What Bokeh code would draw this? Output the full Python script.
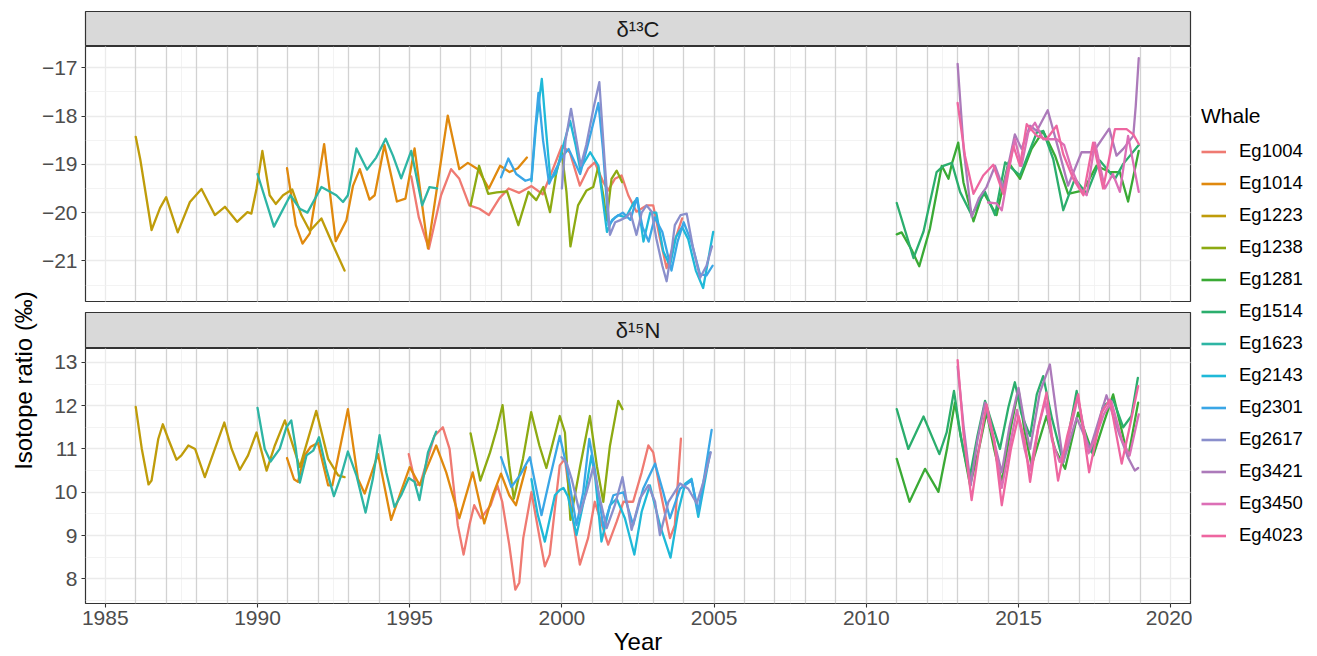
import math
from bokeh.plotting import figure
from bokeh.layouts import row, column
from bokeh.models import (Range1d, SingleIntervalTicker, FixedTicker, Grid,
                          CustomJSTickFormatter, Legend, LegendItem, Label)
from bokeh.embed import file_html
from bokeh.resources import INLINE

FONT = "Liberation Sans"

whales = ["Eg1004", "Eg1014", "Eg1223", "Eg1238", "Eg1281", "Eg1514", "Eg1623",
          "Eg2143", "Eg2301", "Eg2617", "Eg3421", "Eg3450", "Eg4023"]
whale_colors = ["#EF7A72", "#E0890E", "#BF9C0A", "#8DAA12", "#3AAA35", "#2BAE6D", "#2EB5A4",
                "#1FB9D8", "#3AA6E6", "#8A8FCC", "#AC7ABA", "#DC6FB6", "#EE66A0"]

year_lines = list(range(1986, 2020))

# ---------------- d13C ----------------
eg1004_c_yr = [1995.05, 1995.3, 1995.63, 1996.03, 1996.36, 1996.63, 1996.96, 1997.29, 1997.6, 1997.95, 1998.25, 1998.6, 1999.0, 1999.37, 1999.71, 2000.0, 2000.26, 2000.59, 2000.86, 2001.08, 2001.36, 2001.52, 2001.74, 2001.96, 2002.18, 2002.45, 2002.78, 2003.0, 2003.22, 2003.44, 2003.66, 2003.95]
eg1004_c = [-19.25, -20.1, -20.75, -19.64, -19.1, -19.3, -19.85, -19.92, -20.05, -19.7, -19.5, -19.59, -19.45, -19.62, -19.09, -18.62, -18.75, -19.44, -19.09, -18.96, -19.37, -19.54, -19.3, -19.23, -19.64, -19.98, -19.85, -19.85, -20.53, -21.15, -20.67, -20.12]

eg1014_c_yr = [1990.97, 1991.26, 1991.48, 1991.72, 1992.19, 1992.57, 1992.92, 1993.14, 1993.36, 1993.68, 1993.85, 1994.17, 1994.58, 1994.86, 1995.16, 1995.6, 1996.25, 1996.63, 1996.91, 1997.24, 1997.6, 1997.97, 1998.28, 1998.55, 1998.85]
eg1014_c = [-19.08, -20.26, -20.64, -20.43, -18.58, -20.59, -20.16, -19.44, -19.1, -19.73, -19.64, -18.6, -19.77, -19.71, -18.67, -20.74, -17.99, -19.1, -18.97, -19.1, -19.5, -19.03, -19.16, -19.08, -18.86]

eg1223_c_yr = [1986.0, 1986.15, 1986.52, 1986.8, 1987.0, 1987.38, 1987.78, 1988.16, 1988.6, 1988.93, 1989.33, 1989.67, 1989.8, 1989.97, 1990.16, 1990.4, 1990.6, 1990.84, 1991.14, 1991.44, 1991.72, 1992.1, 1992.48, 1992.86]
eg1223_c = [-18.43, -18.9, -20.36, -19.9, -19.68, -20.41, -19.78, -19.51, -20.05, -19.88, -20.19, -19.99, -20.02, -19.5, -18.72, -19.64, -19.82, -19.64, -19.52, -20.05, -20.38, -20.12, -20.67, -21.2]

eg1238_c_yr = [1997.0, 1997.28, 1997.58, 1997.86, 1998.2, 1998.57, 1998.9, 1999.16, 1999.39, 1999.61, 1999.82, 2000.0, 2000.15, 2000.28, 2000.53, 2000.81, 2001.03, 2001.19, 2001.36, 2001.47, 2001.63, 2001.8, 2001.98]
eg1238_c = [-19.85, -19.03, -19.61, -19.58, -19.56, -20.26, -19.57, -19.74, -19.47, -19.99, -19.16, -18.75, -19.57, -20.7, -19.85, -19.54, -19.47, -19.06, -19.64, -20.16, -19.3, -19.13, -19.37]

eg1281_c_yr = [2011.0, 2011.16, 2011.49, 2011.74, 2012.09, 2012.48, 2012.7, 2012.81, 2013.02, 2013.19, 2013.52, 2013.84, 2014.28, 2014.67, 2015.05, 2015.43, 2015.81, 2016.2, 2016.63, 2017.13, 2017.56, 2018.0, 2018.33, 2018.6, 2018.95]
eg1281_c = [-20.45, -20.41, -20.77, -21.11, -20.33, -19.03, -19.3, -18.99, -18.55, -19.37, -20.18, -19.57, -20.05, -18.96, -19.3, -18.68, -18.31, -18.82, -19.61, -19.54, -19.03, -19.16, -19.16, -19.77, -18.72]

eg1514_c_yr = [2011.0, 2011.55, 2011.88, 2012.31, 2012.53, 2012.81, 2013.08, 2013.46, 2013.9, 2014.23, 2014.56, 2015.05, 2015.6, 2015.81, 2016.14, 2016.47, 2016.85, 2017.24, 2017.67, 2018.17, 2018.44, 2018.95]
eg1514_c = [-19.8, -20.94, -20.39, -19.16, -19.03, -18.97, -19.57, -20.05, -19.57, -20.05, -18.96, -19.23, -18.34, -18.31, -18.89, -19.95, -19.3, -19.61, -18.92, -19.3, -18.99, -18.6]

eg1623_c_yr = [1990.0, 1990.54, 1991.08, 1991.39, 1991.64, 1992.1, 1992.59, 1992.81, 1992.97, 1993.25, 1993.6, 1993.9, 1994.21, 1994.45, 1994.72, 1995.05, 1995.41, 1995.65, 1995.9]
eg1623_c = [-19.2, -20.29, -19.64, -19.92, -20.0, -19.47, -19.64, -19.78, -19.64, -18.67, -19.11, -18.86, -18.47, -18.82, -19.29, -18.72, -19.85, -19.47, -19.5]

eg2143_c_yr = [1999.0, 1999.15, 1999.34, 1999.48, 1999.62, 1999.8, 2000.05, 2000.27, 2000.45, 2000.6, 2000.93, 2001.2, 2001.48, 2001.65, 2001.85, 2002.1, 2002.35, 2002.48, 2002.68, 2002.9, 2003.1, 2003.33, 2003.55, 2003.75, 2003.95, 2004.15, 2004.4, 2004.64, 2004.8, 2004.97]
eg2143_c = [-19.35, -18.2, -17.23, -18.3, -19.3, -19.2, -18.6, -18.1, -18.6, -19.1, -18.75, -19.03, -20.4, -20.15, -20.05, -20.1, -19.8, -19.7, -20.6, -20.0, -20.0, -20.8, -21.1, -20.5, -20.3, -20.55, -21.2, -21.56, -21.0, -20.4]

eg2301_c_yr = [1998.0, 1998.24, 1998.5, 1998.8, 1999.0, 1999.12, 1999.23, 1999.38, 1999.58, 1999.8, 2000.0, 2000.22, 2000.6, 2000.85, 2001.2, 2001.35, 2001.53, 2001.75, 2002.0, 2002.25, 2002.46, 2002.65, 2002.85, 2003.05, 2003.3, 2003.6, 2003.8, 2004.0, 2004.25, 2004.54, 2004.75, 2004.95]
eg2301_c = [-19.27, -18.88, -19.2, -19.34, -19.3, -18.3, -17.52, -18.5, -19.4, -19.1, -18.85, -18.68, -19.2, -18.6, -17.73, -18.7, -20.26, -20.1, -20.0, -20.15, -19.7, -20.3, -20.6, -20.1, -20.4, -21.2, -20.6, -20.2, -20.6, -21.28, -21.3, -21.1]

eg2617_c_yr = [2000.0, 2000.12, 2000.3, 2000.45, 2000.62, 2000.8, 2001.05, 2001.23, 2001.4, 2001.58, 2001.75, 2001.9, 2002.1, 2002.25, 2002.45, 2002.62, 2002.78, 2002.95, 2003.1, 2003.3, 2003.44, 2003.6, 2003.71, 2003.9, 2004.1, 2004.3, 2004.54, 2004.75, 2004.93]
eg2617_c = [-19.5, -18.5, -17.85, -18.4, -19.03, -18.6, -17.8, -17.3, -18.9, -20.46, -20.2, -20.16, -20.1, -20.0, -20.46, -20.0, -19.85, -19.98, -20.53, -21.1, -21.42, -20.8, -20.26, -20.05, -20.02, -20.7, -21.35, -21.1, -20.7]

eg3421_c_yr = [2013.0, 2013.2, 2013.46, 2013.7, 2013.95, 2014.23, 2014.5, 2014.88, 2015.1, 2015.38, 2015.6, 2015.96, 2016.31, 2016.63, 2017.07, 2017.45, 2017.98, 2018.22, 2018.44, 2018.77, 2018.85, 2018.95]
eg3421_c = [-16.92, -18.7, -20.09, -19.7, -19.47, -19.03, -19.5, -18.38, -18.68, -18.2, -18.31, -17.88, -18.68, -19.44, -18.75, -18.75, -18.26, -18.82, -18.68, -18.41, -17.8, -16.8]

eg3450_c_yr = [2014.0, 2014.28, 2014.45, 2014.67, 2014.88, 2015.1, 2015.32, 2015.54, 2015.81, 2016.25, 2016.5, 2016.74, 2017.02, 2017.24, 2017.51, 2017.84, 2018.1, 2018.33, 2018.6, 2018.95]
eg3450_c = [-19.79, -19.81, -19.95, -19.16, -18.48, -19.03, -18.34, -18.14, -18.48, -18.48, -18.6, -19.09, -19.5, -19.64, -18.55, -19.5, -19.2, -19.57, -18.41, -19.57]

eg4023_c_yr = [2013.0, 2013.24, 2013.52, 2013.84, 2014.17, 2014.5, 2014.83, 2015.05, 2015.27, 2015.6, 2015.92, 2016.25, 2016.47, 2016.8, 2017.13, 2017.45, 2017.78, 2018.17, 2018.55, 2018.77, 2018.95]
eg4023_c = [-17.73, -18.82, -19.61, -19.23, -19.01, -19.61, -18.62, -19.03, -18.17, -18.41, -18.48, -18.2, -18.79, -19.3, -19.64, -18.55, -19.5, -18.27, -18.27, -18.38, -18.58]

# ---------------- d15N ----------------
eg1004_n_yr = [1994.97, 1995.2, 1995.35, 1995.81, 1996.09, 1996.31, 1996.58, 1996.77, 1996.96, 1997.12, 1997.34, 1997.66, 1997.88, 1998.04, 1998.27, 1998.47, 1998.6, 1998.73, 1999.0, 1999.27, 1999.44, 1999.6, 1999.93, 2000.1, 2000.32, 2000.59, 2000.86, 2001.08, 2001.52, 2001.8, 2002.02, 2002.34, 2002.62, 2002.84, 2003.0, 2003.22, 2003.55, 2003.71, 2003.91]
eg1004_n = [10.88, 10.16, 10.2, 11.3, 11.5, 11.0, 9.24, 8.56, 9.24, 9.7, 9.4, 9.7, 10.16, 9.78, 8.79, 7.75, 7.91, 8.94, 10.0, 8.94, 8.29, 8.56, 10.62, 10.77, 9.55, 8.33, 8.94, 9.78, 8.79, 9.32, 9.78, 9.78, 10.46, 11.08, 10.92, 10.08, 8.94, 9.24, 11.24]

eg1014_n_yr = [1990.97, 1991.2, 1991.33, 1991.55, 1991.75, 1991.99, 1992.32, 1992.46, 1992.97, 1993.3, 1993.52, 1993.96, 1994.39, 1994.67, 1995.0, 1995.33, 1995.6, 1995.87, 1996.2, 1996.63, 1997.07, 1997.45, 1997.73, 1998.0, 1998.27, 1998.49, 1998.82]
eg1014_n = [10.79, 10.3, 10.24, 10.85, 11.05, 11.14, 10.16, 10.16, 11.92, 10.31, 9.97, 10.88, 9.36, 9.93, 10.58, 10.16, 10.62, 11.08, 10.46, 9.4, 10.46, 9.28, 9.93, 10.43, 9.93, 9.7, 10.58]

eg1223_n_yr = [1986.0, 1986.2, 1986.42, 1986.52, 1986.74, 1986.89, 1987.07, 1987.34, 1987.5, 1987.73, 1987.95, 1988.27, 1988.6, 1988.91, 1989.15, 1989.42, 1989.69, 1989.97, 1990.3, 1990.57, 1990.9, 1991.39, 1991.93, 1992.32, 1992.65, 1992.86]
eg1223_n = [11.97, 11.0, 10.18, 10.27, 11.23, 11.57, 11.23, 10.75, 10.85, 11.08, 11.0, 10.35, 11.0, 11.61, 11.0, 10.52, 10.85, 11.38, 10.5, 11.08, 11.66, 10.58, 11.88, 10.77, 10.39, 10.35]

eg1238_n_yr = [1997.0, 1997.32, 1997.64, 1997.86, 1998.05, 1998.27, 1998.42, 1998.72, 1998.99, 1999.26, 1999.49, 1999.93, 2000.1, 2000.28, 2000.6, 2000.92, 2001.15, 2001.36, 2001.58, 2001.85, 2001.99]
eg1238_n = [11.36, 10.27, 10.92, 11.46, 12.01, 10.62, 9.85, 10.77, 11.85, 11.08, 10.56, 11.76, 11.38, 9.36, 10.6, 11.76, 10.6, 9.78, 11.08, 12.11, 11.92]

eg1281_n_yr = [2011.0, 2011.42, 2011.93, 2012.37, 2012.65, 2012.91, 2013.1, 2013.41, 2013.7, 2013.95, 2014.2, 2014.45, 2014.75, 2015.0, 2015.2, 2015.43, 2015.92, 2016.2, 2016.53, 2016.96, 2017.46, 2017.8, 2018.11, 2018.6, 2018.93]
eg1281_n = [10.77, 9.78, 10.54, 10.01, 11.0, 12.07, 11.3, 10.16, 11.0, 11.84, 11.0, 10.24, 11.5, 12.37, 11.4, 10.62, 11.76, 11.0, 10.54, 11.84, 10.85, 11.6, 12.26, 10.81, 12.07]

eg1514_n_yr = [2011.0, 2011.38, 2011.88, 2012.4, 2012.64, 2012.88, 2013.1, 2013.39, 2013.65, 2013.9, 2014.39, 2014.67, 2014.88, 2015.1, 2015.38, 2015.6, 2015.81, 2016.1, 2016.47, 2016.91, 2017.15, 2017.4, 2017.78, 2018.11, 2018.44, 2018.71, 2018.92]
eg1514_n = [11.92, 11.0, 11.75, 10.88, 11.38, 12.34, 11.3, 10.31, 11.3, 12.11, 11.0, 11.97, 12.54, 11.8, 11.3, 12.26, 12.68, 11.7, 10.69, 12.34, 11.4, 10.92, 11.99, 12.14, 11.5, 11.76, 12.64]

eg1623_n_yr = [1990.0, 1990.24, 1990.43, 1990.73, 1990.95, 1991.11, 1991.26, 1991.39, 1991.61, 1991.83, 1992.02, 1992.26, 1992.51, 1992.75, 1992.97, 1993.25, 1993.55, 1993.79, 1994.01, 1994.23, 1994.5, 1994.72, 1994.97, 1995.16, 1995.32, 1995.6, 1995.87]
eg1623_n = [11.95, 11.0, 10.71, 11.0, 11.5, 11.66, 11.0, 10.22, 10.85, 10.96, 11.27, 10.54, 9.91, 10.39, 10.94, 10.39, 9.53, 10.31, 11.32, 10.46, 9.66, 9.93, 10.33, 10.24, 9.82, 10.92, 11.4]

eg2143_n_yr = [1999.0, 1999.2, 1999.44, 1999.77, 1999.93, 2000.05, 2000.2, 2000.48, 2000.75, 2000.97, 2001.1, 2001.3, 2001.58, 2001.8, 2002.07, 2002.38, 2002.62, 2002.89, 2003.22, 2003.57, 2003.82, 2004.05, 2004.26, 2004.48, 2004.65, 2004.87]
eg2143_n = [10.3, 9.5, 8.86, 9.93, 10.05, 10.1, 9.9, 9.01, 9.9, 10.85, 10.3, 8.86, 9.7, 9.85, 9.4, 8.56, 9.55, 10.16, 9.24, 8.49, 9.55, 10.2, 10.31, 9.43, 10.08, 10.92]

eg2301_n_yr = [1998.0, 1998.34, 1998.62, 1998.95, 1999.33, 1999.6, 1999.93, 2000.15, 2000.48, 2000.7, 2000.9, 2001.08, 2001.36, 2001.69, 2002.02, 2002.34, 2002.67, 2003.06, 2003.33, 2003.55, 2003.88, 2004.26, 2004.48, 2004.7, 2004.92]
eg2301_n = [10.81, 10.12, 10.39, 10.81, 9.47, 10.31, 11.3, 10.62, 9.24, 10.0, 11.23, 10.54, 9.2, 9.93, 10.0, 9.24, 10.08, 10.66, 10.0, 9.4, 10.08, 10.27, 9.55, 10.46, 11.44]

eg2617_n_yr = [1999.99, 2000.15, 2000.32, 2000.59, 2000.81, 2001.03, 2001.25, 2001.47, 2001.74, 2001.99, 2002.29, 2002.56, 2002.84, 2003.06, 2003.22, 2003.5, 2003.88, 2004.15, 2004.43, 2004.65, 2004.89]
eg2617_n = [10.81, 10.69, 10.31, 9.51, 10.0, 10.58, 9.85, 9.17, 9.7, 10.35, 9.13, 9.85, 10.16, 9.78, 9.01, 9.78, 10.2, 10.08, 9.74, 10.24, 10.92]

eg3421_n_yr = [2013.0, 2013.2, 2013.43, 2013.65, 2013.9, 2014.15, 2014.45, 2014.7, 2015.0, 2015.2, 2015.38, 2015.7, 2016.03, 2016.25, 2016.47, 2016.91, 2017.35, 2017.89, 2018.33, 2018.6, 2018.82, 2018.93]
eg3421_n = [12.9, 11.5, 10.16, 11.2, 12.07, 11.3, 10.46, 11.5, 12.41, 11.6, 11.0, 12.3, 12.95, 11.8, 10.69, 11.72, 11.0, 12.24, 11.3, 10.8, 10.5, 10.56]

eg3450_n_yr = [2014.0, 2014.2, 2014.45, 2014.75, 2014.95, 2015.2, 2015.38, 2015.65, 2015.88, 2016.1, 2016.35, 2016.6, 2016.95, 2017.3, 2017.55, 2017.8, 2018.05, 2018.4, 2018.65, 2018.95]
eg3450_n = [11.7, 11.2, 10.1, 11.2, 11.9, 11.0, 10.5, 11.5, 12.1, 11.2, 10.7, 11.1, 12.2, 10.9, 11.3, 11.8, 12.1, 11.2, 10.85, 11.8]

eg4023_n_yr = [2013.0, 2013.2, 2013.46, 2013.7, 2013.95, 2014.2, 2014.45, 2014.75, 2015.0, 2015.2, 2015.38, 2015.65, 2015.92, 2016.1, 2016.3, 2016.6, 2016.96, 2017.32, 2017.73, 2018.0, 2018.39, 2018.65, 2018.93]
eg4023_n = [13.05, 11.3, 9.82, 11.0, 12.03, 11.2, 9.7, 11.0, 11.76, 11.2, 10.24, 11.5, 12.3, 11.3, 10.27, 11.3, 12.26, 10.46, 11.84, 12.14, 10.66, 11.5, 12.45]

c13_series = [(eg1004_c_yr, eg1004_c), (eg1014_c_yr, eg1014_c), (eg1223_c_yr, eg1223_c),
              (eg1238_c_yr, eg1238_c), (eg1281_c_yr, eg1281_c), (eg1514_c_yr, eg1514_c),
              (eg1623_c_yr, eg1623_c), (eg2143_c_yr, eg2143_c), (eg2301_c_yr, eg2301_c),
              (eg2617_c_yr, eg2617_c), (eg3421_c_yr, eg3421_c), (eg3450_c_yr, eg3450_c),
              (eg4023_c_yr, eg4023_c)]
n15_series = [(eg1004_n_yr, eg1004_n), (eg1014_n_yr, eg1014_n), (eg1223_n_yr, eg1223_n),
              (eg1238_n_yr, eg1238_n), (eg1281_n_yr, eg1281_n), (eg1514_n_yr, eg1514_n),
              (eg1623_n_yr, eg1623_n), (eg2143_n_yr, eg2143_n), (eg2301_n_yr, eg2301_n),
              (eg2617_n_yr, eg2617_n), (eg3421_n_yr, eg3421_n), (eg3450_n_yr, eg3450_n),
              (eg4023_n_yr, eg4023_n)]

FRAME_W = 1105
LEFT_B = 47
x_range = Range1d(1984.35, 2020.65)

minus_fmt = "return (tick < 0 ? '\u2212' : '') + Math.abs(tick).toString();"


def make_panel(y_lo, y_hi, series, with_x_axis):
    p = figure(frame_width=FRAME_W, frame_height=255, x_range=x_range,
               y_range=Range1d(y_lo, y_hi), output_backend="svg", toolbar_location=None,
               x_axis_location="below" if with_x_axis else None,
               min_border_left=LEFT_B, min_border_right=2, min_border_top=0,
               min_border_bottom=52 if with_x_axis else 11,
               background_fill_color="white", border_fill_color="white",
               outline_line_color="#333333", outline_line_width=1.2)
    yt = SingleIntervalTicker(interval=1, num_minor_ticks=2)
    xt = SingleIntervalTicker(interval=5, num_minor_ticks=2)
    p.yaxis.ticker = yt
    p.yaxis.formatter = CustomJSTickFormatter(code=minus_fmt)
    p.ygrid.ticker = yt
    p.xgrid.ticker = xt
    for g in (p.xgrid, p.ygrid):
        g.grid_line_color = "#EBEBEB"
        g.grid_line_width = 1.3
        g.minor_grid_line_color = "#F0F0F0"
        g.minor_grid_line_width = 0.8
    for ax in p.axis:
        ax.axis_line_color = None
        ax.major_tick_line_color = "#333333"
        ax.major_tick_line_width = 1.1
        ax.major_tick_out = 4
        ax.major_tick_in = 0
        ax.minor_tick_line_color = None
        ax.major_label_text_font = FONT
        ax.major_label_text_font_size = "21px"
        ax.major_label_text_color = "#4D4D4D"
        ax.major_label_standoff = 4
    if with_x_axis:
        p.xaxis.ticker = xt
        p.xaxis.axis_label = "Year"
        p.xaxis.axis_label_text_font = FONT
        p.xaxis.axis_label_text_font_size = "24px"
        p.xaxis.axis_label_text_font_style = "normal"
        p.xaxis.axis_label_text_color = "#000000"
        p.xaxis.axis_label_standoff = 0
        p.xaxis.major_label_standoff = 3
    p.add_layout(Grid(dimension=0, ticker=FixedTicker(ticks=year_lines),
                      grid_line_color="#D2D2D2", grid_line_width=1.3), "center")
    for (xs, ys), col in zip(series, whale_colors):
        p.line(xs, ys, line_color=col, line_width=2.3, line_join="round", line_cap="round")
    return p


def make_strip(text, top_border, h):
    s = figure(frame_width=FRAME_W, frame_height=h, x_range=Range1d(0, 1), y_range=Range1d(0, 1),
               output_backend="svg", toolbar_location=None, x_axis_location=None,
               y_axis_location=None, min_border_left=LEFT_B, min_border_right=2,
               min_border_top=top_border, min_border_bottom=0,
               background_fill_color="#D9D9D9", border_fill_color="white",
               outline_line_color="#333333", outline_line_width=1.2)
    s.xgrid.visible = False
    s.ygrid.visible = False
    s.add_layout(Label(x=0.5, y=0.5, text=text, text_align="center", text_baseline="middle",
                       text_font=FONT, text_font_size="22px", text_color="#1A1A1A"))
    return s


strip_c = make_strip("δ¹³C", 11, 35)
panel_c = make_panel(-21.84, -16.56, c13_series, False)
strip_n = make_strip("δ¹⁵N", 0, 36)
panel_n = make_panel(7.43, 13.32, n15_series, True)

ylab = figure(width=38, height=656, x_range=Range1d(0, 38), y_range=Range1d(0, 656),
              output_backend="svg", toolbar_location=None, x_axis_location=None,
              y_axis_location=None, min_border=0, outline_line_color=None)
ylab.xgrid.visible = False
ylab.ygrid.visible = False
ylab.add_layout(Label(x=23, y=328, text="Isotope ratio (‰)", angle=math.pi / 2,
                      text_align="center", text_baseline="middle", text_font=FONT,
                      text_font_size="24px", text_color="#000000"))

lf = figure(frame_width=116, frame_height=552, x_range=Range1d(0, 1), y_range=Range1d(0, 1),
            output_backend="svg", toolbar_location=None, x_axis_location=None,
            y_axis_location=None, min_border_left=9, min_border_right=0,
            min_border_top=104, min_border_bottom=0, outline_line_color=None)
lf.xgrid.visible = False
lf.ygrid.visible = False
items = []
for name, col in zip(whales, whale_colors):
    r = lf.line(x=[5, 6], y=[5, 6], line_color=col, line_width=2.6)
    items.append(LegendItem(label=name, renderers=[r]))
legend = Legend(items=items, location="top_left", title="Whale",
                title_text_font=FONT, title_text_font_size="21px", title_text_color="#000000",
                title_text_font_style="normal", title_standoff=12,
                label_text_font=FONT, label_text_font_size="18.5px", label_text_color="#000000",
                glyph_width=25, glyph_height=21, label_height=21, spacing=10,
                padding=0, margin=0, label_standoff=13,
                border_line_color=None, background_fill_alpha=0)
lf.add_layout(legend, "center")

layout = row(ylab, column(strip_c, panel_c, strip_n, panel_n), lf)

open("out.html", "w").write(file_html(layout, INLINE))
